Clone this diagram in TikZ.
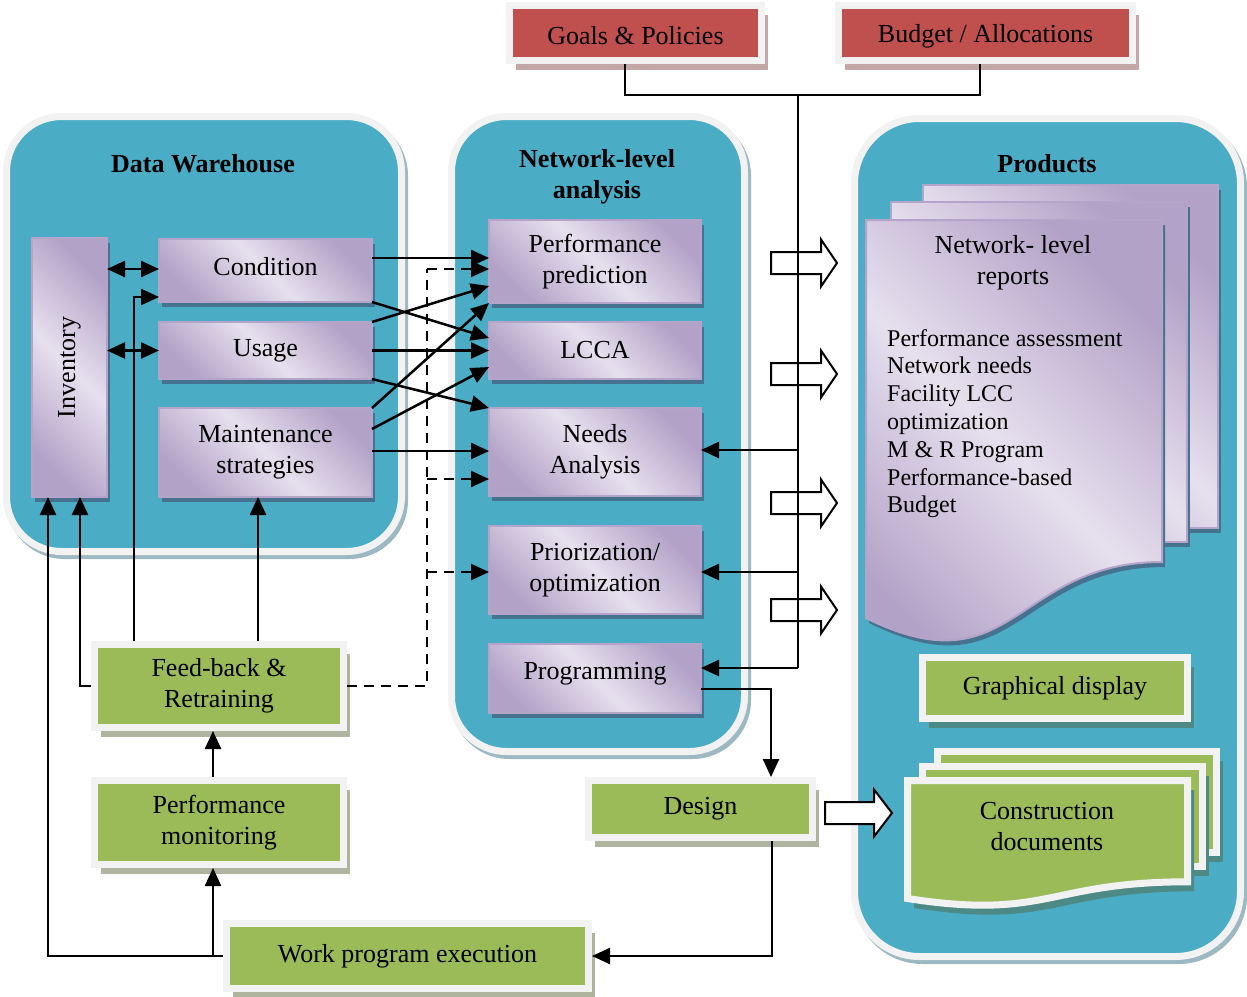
\documentclass[tikz,border=0pt]{standalone}
\usepackage{fontspec}
\setmainfont{Liberation Serif}
\usepackage{graphicx}
\usetikzlibrary{arrows.meta,shadows,calc}
\definecolor{teal0}{HTML}{4BACC6}
\definecolor{ring}{HTML}{F2F2F2}
\definecolor{cshad}{HTML}{9CB9C3}
\definecolor{plight}{HTML}{E6E0EE}
\definecolor{pdark}{HTML}{B3A2C7}
\definecolor{pline}{HTML}{B4A4CA}
\definecolor{pshad}{HTML}{46718F}
\definecolor{gfill}{HTML}{9BBB59}
\definecolor{gshadw}{HTML}{AEB49E}
\definecolor{gshadt}{HTML}{4E8A85}
\definecolor{rfill}{HTML}{C0504D}
\definecolor{rshad}{HTML}{C4A8A8}
\tikzset{
  txt/.style={font=\fontsize{26}{31}\selectfont, align=center},
  ttl/.style={font=\bfseries\fontsize{26}{31}\selectfont, align=center},
  cont/.style={fill=teal0, draw=ring, line width=7pt},
  contshad/.style={fill=cshad, draw=cshad, line width=7pt},
  pshade/.style={draw=pline, line width=2pt, top color=pdark, bottom color=pdark, middle color=plight, shading angle=-45,
    drop shadow={shadow xshift=3pt, shadow yshift=-5pt, fill=pshad, opacity=1}},
  pbox/.style={txt, pshade, inner sep=0pt, outer sep=0pt},
  gbox/.style={txt, fill=gfill, draw=ring, line width=7pt, inner sep=0pt,
    drop shadow={shadow xshift=6.5pt, shadow yshift=-9.5pt, fill=gshadw, opacity=1}},
  gboxt/.style={txt, fill=gfill, draw=ring, line width=7pt, inner sep=0pt,
    drop shadow={shadow xshift=6.5pt, shadow yshift=-9.5pt, fill=gshadt, opacity=1}},
  gdoc/.style={fill=gfill, draw=ring, line width=7pt,
    drop shadow={shadow xshift=6.5pt, shadow yshift=-9.5pt, fill=gshadt, opacity=1}},
  rbox/.style={txt, fill=rfill, draw=ring, line width=7pt, inner sep=0pt,
    drop shadow={shadow xshift=6.5pt, shadow yshift=-9.5pt, fill=rshad, opacity=1}},
  ln/.style={line width=2.5pt, draw=black},
  arr/.style={ln, -{Triangle[length=18pt,width=16pt]}},
  dbl/.style={ln, {Triangle[length=18pt,width=16pt]}-{Triangle[length=18pt,width=16pt]}},
  dsh/.style={line width=2.2pt, dash pattern=on 10pt off 7pt},
  dsharr/.style={dsh, -{Triangle[length=18pt,width=16pt]}},
  barrow/.style={draw=black, fill=white, line width=2pt, line join=miter},
}
\begin{document}
\begin{tikzpicture}[x=1pt,y=-1pt]
\useasboundingbox (0,0) rectangle (1247,996);
% containers
\draw[contshad, rounded corners=55pt] (9.5,120.5) rectangle (404.5,555.5);
\draw[cont, rounded corners=55pt] (6.5,116.5) rectangle (401.5,551.5);
\draw[contshad, rounded corners=55pt] (454.5,120.5) rectangle (747.5,755.5);
\draw[cont, rounded corners=55pt] (451.5,116.5) rectangle (744.5,751.5);
\draw[contshad, rounded corners=65pt] (857.5,122.5) rectangle (1243.5,960.5);
\draw[cont, rounded corners=65pt] (854.5,118.5) rectangle (1240.5,956.5);
\node[ttl] (t1) at (203,164) {Data Warehouse};
\node[ttl] (t2) at (597,177) {Network-level\\analysis};
\node[ttl] (t3) at (1047,164) {Products};
% purple boxes
\node[pbox, minimum width=75pt, minimum height=259pt] (inv) at (69.5,367.5) {\rotatebox{90}{Inventory}};
\node[pbox, minimum width=213pt, minimum height=63pt] (cond) at (265.5,270.5) {\raisebox{4pt}[\height][\depth]{Condition}};
\node[pbox, minimum width=213pt, minimum height=57pt] (usage) at (265.5,350.5) {Usage};
\node[pbox, minimum width=213pt, minimum height=89pt] (maint) at (265.5,452.5) {Maintenance\\strategies};
\node[pbox, minimum width=212pt, minimum height=83pt] (pp) at (595,261.5) {Performance\\prediction};
\node[pbox, minimum width=212pt, minimum height=57pt] (lcca) at (595,350.5) {LCCA};
\node[pbox, minimum width=212pt, minimum height=88pt] (needs) at (595,452) {Needs\\Analysis};
\node[pbox, minimum width=212pt, minimum height=88pt] (prio) at (595,570) {Priorization/\\optimization};
\node[pbox, minimum width=212pt, minimum height=69pt] (prog) at (595,678.5) {\raisebox{5pt}[\height][\depth]{Programming}};
% network-level reports document
\path[pshade] (923,185) rectangle (1218,528);
\path[pshade] (891,202) rectangle (1187,542);
\path[pshade] (866,220) -- (1162,220) -- (1162,562) .. controls (1014,562) and (1014,691) .. (866,618) -- cycle;
\node[txt] (nlr) at (1013,263) {Network- level\\reports};
\node[font=\fontsize{24}{27.8}\selectfont, align=left, anchor=north west, inner sep=0pt] (list) at (887,329)
  {Performance assessment\\Network needs\\Facility LCC\\optimization\\M \& R Program\\Performance-based\\Budget};
% construction documents
\path[gdoc] (937.5,751.5) rectangle (1216.5,852.5);
\path[gdoc] (922.5,766.5) rectangle (1202.5,866.5);
\path[gdoc] (907.5,780.5) -- (1187.5,780.5) -- (1187.5,881.8) .. controls (1047.5,881.8) and (1047.5,920.3) .. (907.5,898.5) -- cycle;
\node[txt] (cd) at (1047,827) {Construction\\documents};
% green and red boxes
\node[gbox, minimum width=249pt, minimum height=83pt] (fb) at (219,686) {Feed-back \&\\Retraining};
\node[gbox, minimum width=249pt, minimum height=84pt] (pm) at (219,822.5) {Performance\\monitoring};
\node[gbox, minimum width=362pt, minimum height=65pt] (wpe) at (407.5,956) {Work program execution};
\node[gbox, minimum width=224pt, minimum height=57pt] (design) at (700.5,809) {Design};
\node[gboxt, minimum width=265pt, minimum height=61pt] (gd) at (1055,688) {Graphical display};
\node[rbox, minimum width=252pt, minimum height=55pt] (goals) at (635.5,33) {\raisebox{-3pt}[\height][\depth]{Goals \& Policies}};
\node[rbox, minimum width=294pt, minimum height=55pt] (budget) at (985.5,33) {\raisebox{-3pt}[\height][\depth]{Budget / Allocations}};
% block arrows
\foreach \yy in {263,374,503,610} {
  \draw[barrow] (771,\yy-11) -- (821,\yy-11) -- (821,\yy-23.5) -- (837,\yy) -- (821,\yy+23.5) -- (821,\yy+11) -- (771,\yy+11) -- cycle;
}
\draw[barrow] (825,802) -- (874,802) -- (874,789.5) -- (892,813) -- (874,836.5) -- (874,824) -- (825,824) -- cycle;
% trunk from goals / budget
\coordinate (tl) at (625,95);
\coordinate (tr) at (980,95);
\coordinate (tj) at (798,95);
\coordinate (tb) at (798,668);
\draw[ln, line width=2.2pt] (goals.south -| tl) -- (tl) -- (tr) -- (budget.south -| tr);
\draw[ln, line width=2.2pt] (tj) -- (tb);
\draw[arr] (tj |- 0,450) -- (needs.east |- 0,450);
\draw[arr] (tj |- 0,572) -- (prio.east |- 0,572);
\draw[arr] (tb) -- (prog.east |- tb);
% data warehouse to network-level analysis
\draw[arr] (cond.east |- 0,258) -- (pp.west |- 0,258);
\draw[arr] (cond.south east) -- (lcca.west |- 0,338);
\draw[arr] (usage.north east) -- (pp.west |- 0,286);
\draw[arr] (usage.east) -- (lcca.west);
\draw[arr] (usage.south east) -- (needs.north west);
\draw[arr] (maint.north east) -- (pp.south west);
\draw[arr] (maint.east |- 0,429) -- (lcca.west |- 0,367);
\draw[arr] (maint.east |- 0,451) -- (needs.west |- 0,451);
% dashed feedback
\coordinate (dt) at (427,269);
\draw[dsh] (fb.east) -| (dt);
\draw[dsharr] (dt) -- (pp.west |- dt);
\draw[dsharr] (dt |- 0,479) -- (needs.west |- 0,479);
\draw[dsharr] (dt |- 0,572) -- (prio.west |- 0,572);
% inside data warehouse
\draw[dbl] (inv.east |- 0,269) -- (cond.west |- 0,269);
\draw[dbl] (inv.east |- usage.west) -- (usage.west);
\draw[arr] (fb.north -| 134,0) |- (cond.west |- 0,297);
\draw[arr] (fb.north -| 258,0) -- (maint.south -| 258,0);
\draw[arr] (fb.west) -| (inv.south -| 80,0);
\draw[arr] (wpe.west) -| (inv.south -| 48,0);
\draw[arr] (wpe.west -| 213,0) -- (pm.south -| 213,0);
\draw[arr] (pm.north -| 213,0) -- (fb.south -| 213,0);
% programming -> design -> work program
\coordinate (pd) at (771,689);
\draw[arr] (prog.east |- pd) -| (design.north -| pd);
\draw[arr] (design.south -| 772,0) |- (wpe.east);
\end{tikzpicture}
\end{document}
